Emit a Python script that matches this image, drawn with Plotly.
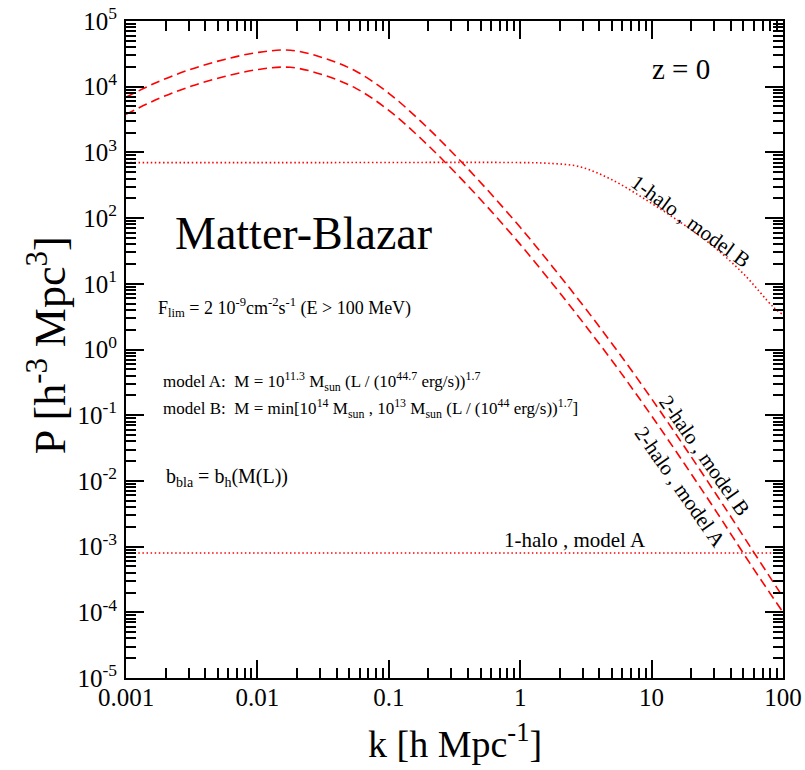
import plotly.graph_objects as go

# ---- data (k in h/Mpc, P in (Mpc/h)^3), as log10 values ----
logk_2h = [-3.0, -2.75, -2.5, -2.25, -2.0, -1.75, -1.5, -1.25, -1.0, -0.75, -0.5,
           -0.25, 0.0, 0.25, 0.5, 0.75, 1.0, 1.25, 1.5, 1.75, 2.0]
logP_2h_B = [3.84, 4.08, 4.27, 4.415, 4.52, 4.555, 4.44, 4.235, 3.90, 3.46, 2.965,
             2.43, 1.86, 1.25, 0.615, -0.05, -0.75, -1.48, -2.23, -3.00, -3.77]
logP_2h_A = [3.58, 3.82, 4.01, 4.155, 4.26, 4.295, 4.18, 3.975, 3.64, 3.20, 2.705,
             2.17, 1.60, 0.99, 0.355, -0.31, -1.01, -1.74, -2.49, -3.26, -4.00]

logk_1h_B = [-3.0, -1.5, 0.0, 0.204, 0.455, 0.706, 0.963, 1.216, 1.444, 1.698, 1.926, 2.0]
logP_1h_B = [2.845, 2.845, 2.845, 2.835, 2.781, 2.575, 2.271, 1.941, 1.612, 1.155, 0.647, 0.53]

logk_1h_A = [-3.0, 2.0]
logP_1h_A = [-3.097, -3.097]

x_tick_vals = [0.001, 0.01, 0.1, 1, 10, 100]
x_tick_text = ["0.001", "0.01", "0.1", "1", "10", "100"]
y_exponents = list(range(-5, 6))

k_2h = [10 ** v for v in logk_2h]
P_2h_B = [10 ** v for v in logP_2h_B]
P_2h_A = [10 ** v for v in logP_2h_A]
k_1h_B = [10 ** v for v in logk_1h_B]
P_1h_B = [10 ** v for v in logP_1h_B]
k_1h_A = [10 ** v for v in logk_1h_A]
P_1h_A = [10 ** v for v in logP_1h_A]

FONT = "Liberation Serif, Times New Roman, serif"
RED = "#ff0000"

fig = go.Figure()
dash = "9px,5px"
dot = "1.5px,2.6px"
fig.add_trace(go.Scatter(x=k_2h, y=P_2h_B, mode="lines", line=dict(color=RED, width=1.6, dash=dash, shape="spline"), name="2-halo, model B"))
fig.add_trace(go.Scatter(x=k_2h, y=P_2h_A, mode="lines", line=dict(color=RED, width=1.6, dash=dash, shape="spline"), name="2-halo, model A"))
fig.add_trace(go.Scatter(x=k_1h_B, y=P_1h_B, mode="lines", line=dict(color=RED, width=1.6, dash=dot, shape="spline"), name="1-halo, model B"))
fig.add_trace(go.Scatter(x=k_1h_A, y=P_1h_A, mode="lines", line=dict(color=RED, width=1.6, dash=dot), name="1-halo, model A"))

x_minor = [m * 10.0 ** e for e in range(-3, 2) for m in range(2, 10)]
y_minor = [m * 10.0 ** e for e in range(-5, 5) for m in range(2, 10)]

axis_common = dict(
    type="log", showgrid=False, zeroline=False, showline=True, linecolor="black", linewidth=2,
    mirror="ticks", ticks="inside", ticklen=18, tickwidth=2, tickcolor="black", automargin=False,
    tickfont=dict(family=FONT, size=25, color="black"),
)
fig.update_xaxes(**axis_common, range=[-3, 2], tickmode="array", tickvals=x_tick_vals, ticktext=x_tick_text,
                 minor=dict(tickmode="array", tickvals=x_minor, ticks="inside", ticklen=10, tickwidth=2, tickcolor="black", showgrid=False),
                 ticklabelstandoff=-4)
fig.update_yaxes(**axis_common, range=[-5, 5], tickmode="array", tickvals=[10.0 ** e for e in y_exponents],
                 ticktext=["10<sup>%d</sup>" % e for e in y_exponents],
                 minor=dict(tickmode="array", tickvals=y_minor, ticks="inside", ticklen=10, tickwidth=2, tickcolor="black", showgrid=False),
                 ticklabelstandoff=2)

def px_x(px):
    return (px - 126) / 657.0

def px_y(py):
    return (677.7 - py) / 657.0

ann = []
def add(text, x, y, size, angle=0, xanchor="center"):
    ann.append(dict(text=text, x=px_x(x), y=px_y(y), xref="paper", yref="paper", showarrow=False,
                    textangle=angle, xanchor=xanchor, yanchor="middle",
                    font=dict(family=FONT, size=size, color="black")))

add("z = 0", 681, 69, 29)
add("Matter-Blazar", 173, 233, 46, xanchor="left")
add("F<sub>lim</sub> = 2 10<sup>-9</sup>cm<sup>-2</sup>s<sup>-1</sup> (E &gt; 100 MeV)", 156, 307, 18, xanchor="left")
add("model A:  M = 10<sup>11.3</sup> M<sub>sun</sub> (L / (10<sup>44.7</sup> erg/s))<sup>1.7</sup>", 161, 381, 17, xanchor="left")
add("model B:  M = min[10<sup>14</sup> M<sub>sun</sub> , 10<sup>13</sup> M<sub>sun</sub> (L / (10<sup>44</sup> erg/s))<sup>1.7</sup>]", 161, 408, 17, xanchor="left")
add("b<sub>bla</sub> = b<sub>h</sub>(M(L))", 164, 477, 20, xanchor="left")
add("1-halo , model A", 575, 540, 21)
add("1-halo , model B", 690, 221, 21, angle=36)
add("2-halo , model B", 704, 455, 21, angle=55)
add("2-halo , model A", 680, 487, 21, angle=55)
add("k [h Mpc<sup>-1</sup>]", 455, 741, 38)
add("P [h<sup>-3</sup> Mpc<sup>3</sup>]", 47, 345, 44, angle=-90)

fig.update_layout(
    width=805, height=770, margin=dict(l=126, r=22, t=21, b=92),
    paper_bgcolor="white", plot_bgcolor="white", showlegend=False,
    annotations=ann, font=dict(family=FONT, color="black"),
)
fig.write_html("out.html")
